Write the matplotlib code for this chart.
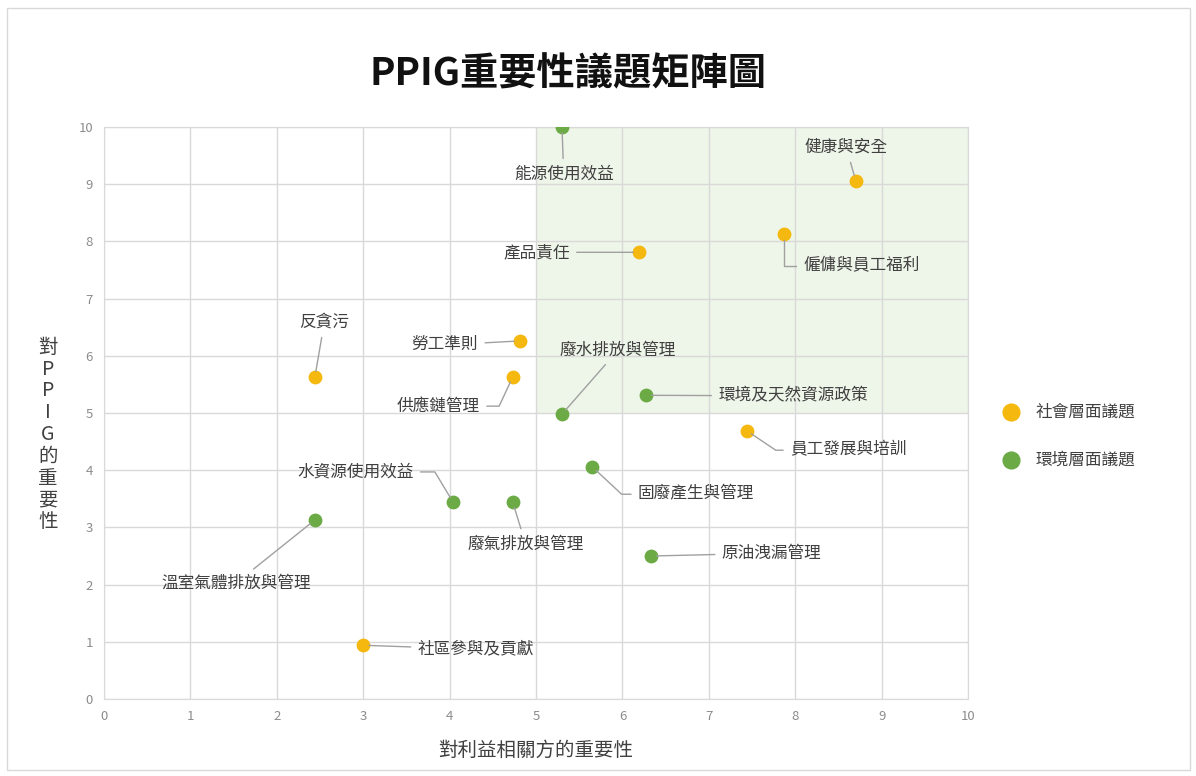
import matplotlib
matplotlib.use('Agg')
import matplotlib.pyplot as plt
from matplotlib.patches import Rectangle

plt.rcParams['font.family'] = ['Noto Sans CJK TC', 'DejaVu Sans']

# data: (name, stakeholder importance, PPIG importance, group)
names = ['能源使用效益', '健康與安全', '僱傭與員工福利', '產品責任', '反貪污', '勞工準則',
         '供應鏈管理', '廢水排放與管理', '環境及天然資源政策', '員工發展與培訓', '固廢產生與管理',
         '水資源使用效益', '廢氣排放與管理', '溫室氣體排放與管理', '原油洩漏管理', '社區參與及貢獻']
x_vals = [5.30, 8.70, 7.87, 6.19, 2.44, 4.81, 4.73, 5.30, 6.27, 7.44, 5.65, 4.04, 4.73, 2.44, 6.33, 3.00]
y_vals = [10.0, 9.06, 8.13, 7.81, 5.63, 6.26, 5.63, 4.98, 5.31, 4.69, 4.06, 3.44, 3.44, 3.13, 2.50, 0.94]
groups = ['env', 'soc', 'soc', 'soc', 'soc', 'soc', 'soc', 'env', 'env', 'soc', 'env',
          'env', 'env', 'env', 'env', 'soc']

# label placement: (x, y, ha, connection style)
label_pos = [
    (5.32, 9.18, 'center', 'arc3'),
    (8.59, 9.65, 'center', 'arc3'),
    (8.09, 7.57, 'left', 'angle,angleA=0,angleB=90,rad=0'),
    (5.39, 7.81, 'right', 'arc3'),
    (2.55, 6.59, 'center', 'arc3'),
    (4.33, 6.19, 'right', 'arc3'),
    (4.35, 5.12, 'right', 'angle,angleA=0,angleB=65,rad=0'),
    (5.95, 6.10, 'center', 'arc3'),
    (7.11, 5.30, 'left', 'arc3'),
    (7.94, 4.35, 'left', 'angle,angleA=0,angleB=-34,rad=0'),
    (6.18, 3.58, 'left', 'angle,angleA=0,angleB=-43,rad=0'),
    (2.91, 3.97, 'center', 'angle,angleA=0,angleB=-59,rad=0'),
    (4.88, 2.71, 'center', 'arc3'),
    (1.53, 2.03, 'center', 'arc3'),
    (7.15, 2.55, 'left', 'arc3'),
    (3.63, 0.87, 'left', 'arc3'),
]

colors = {'soc': '#F5B80E', 'env': '#6BAA45'}
legend_names = {'soc': '社會層面議題', 'env': '環境層面議題'}

fig = plt.figure(figsize=(11.96, 7.76), dpi=100)
ax = fig.add_axes([0.087, 0.0992, 0.7224, 0.7371])

# highlight quadrant
ax.add_patch(Rectangle((5, 5), 5, 5, facecolor='#EEF5E9', edgecolor='none', zorder=0))

for g in ['soc', 'env']:
    xs = [x for x, gg in zip(x_vals, groups) if gg == g]
    ys = [y for y, gg in zip(y_vals, groups) if gg == g]
    ax.scatter(xs, ys, s=80, color=colors[g], zorder=4, label=legend_names[g])

for n, x, y, (tx, ty, ha, cs) in zip(names, x_vals, y_vals, label_pos):
    ax.annotate(n, xy=(x, y), xytext=(tx, ty), ha=ha, va='center', fontsize=12,
                color='#404040', zorder=5,
                arrowprops=dict(arrowstyle='-', color='#a0a0a0', lw=1,
                                shrinkA=3, shrinkB=4, connectionstyle=cs))

ax.set_xlim(0, 10)
ax.set_ylim(0, 10)
ax.set_xticks(range(0, 11))
ax.set_yticks(range(0, 11))
ax.grid(True, color='#d9d9d9', lw=1, zorder=1)
ax.set_axisbelow(True)
for s in ax.spines.values():
    s.set_color('#d9d9d9')
ax.tick_params(length=0, colors='#8c8c8c', labelsize=9.5, pad=8)

ax.set_xlabel('對利益相關方的重要性', fontsize=14, color='#404040', labelpad=12)
fig.text(0.04, 0.44, '對\nP\nP\nI\nG\n的\n重\n要\n性', fontsize=14, color='#404040',
         ha='center', va='center', linespacing=1.05)

fig.text(0.475, 0.905, 'PPIG重要性議題矩陣圖', fontsize=27.5, fontweight='bold',
         ha='center', va='center', color='#111111')

leg = ax.legend(loc='center left', bbox_to_anchor=(1.013, 0.46), frameon=False,
                fontsize=12, markerscale=1.35, handletextpad=0.5, labelspacing=1.85)
for t in leg.get_texts():
    t.set_color('#404040')

fig.add_artist(Rectangle((0.006, 0.008), 0.989, 0.982, transform=fig.transFigure,
                         fill=False, edgecolor='#d9d9d9', lw=1))

fig.savefig('out.png', dpi=100)
